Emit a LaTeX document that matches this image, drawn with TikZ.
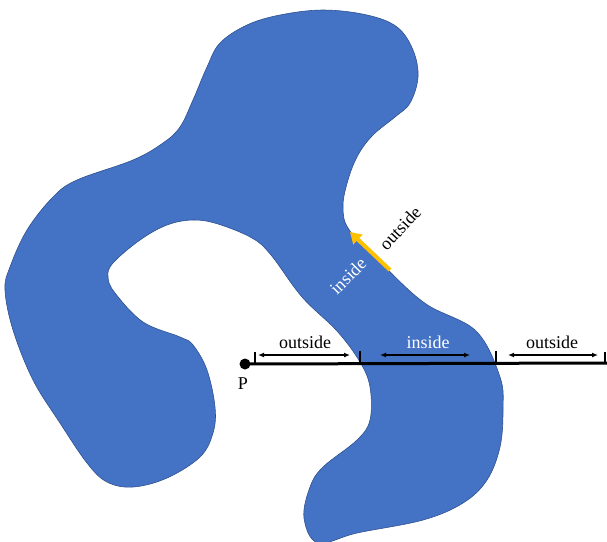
\documentclass[tikz,border=0pt]{standalone}
\usepackage{fontspec}
\setmainfont{Liberation Serif}
\usetikzlibrary{arrows.meta}
\definecolor{blobfill}{HTML}{4472C4}
\definecolor{blobline}{HTML}{2F528F}
\definecolor{normalarrow}{HTML}{FFC000}
\begin{document}
\begin{tikzpicture}[x=1pt,y=-1pt,
  lbl/.style={font=\fontsize{18}{18}\selectfont, inner sep=0pt},
  span/.style={line width=1.5pt, {Latex[length=6pt,width=5pt]}-{Latex[length=6pt,width=5pt]}},
  tick/.style={line width=2pt},
  ray/.style={line width=3pt}]
\useasboundingbox (0,0) rectangle (607,541);
\clip (0,0) rectangle (607,541);
% the region
\fill[blobfill, draw=blobline, line width=0.6pt] plot[smooth cycle, tension=0.6] coordinates {
 (323,10) (367,15) (397,27) (413,50) (418,77) (410,103) (395,117) (373,135)
 (358,155) (348,180) (343,207) (350,231) (387,269) (426,304) (476,331)
 (500,377) (503,410) (500,447) (487,480) (463,503) (423,520) (357,533)
 (318,543) (304,518) (310,487) (323,467) (357,440) (370,420) (370,387)
 (360,362) (337,331) (302,297) (271,255) (252,238) (218,224) (193,220)
 (167,225) (140,240) (113,263) (108,277) (115,293) (143,322) (180,337)
 (193,345) (207,370) (215,407) (213,433) (200,457) (167,478) (133,487)
 (107,482) (87,463) (60,423) (33,380) (13,330) (5,290) (10,267) (27,230)
 (53,197) (77,180) (133,160) (163,143) (180,127) (193,100) (207,67)
 (220,43) (247,25) (280,15)};
% ray from P
\node[circle, fill=black, inner sep=0pt, minimum size=11pt] (P) at (245,364) {};
\node[lbl] (Plabel) at (243,384) {P};
\coordinate (end) at (607,363);
\draw[ray] (P.center) -- (end);
\coordinate (t0) at (255,363); \coordinate (t0u) at (255,352);
\coordinate (t1) at (360,363); \coordinate (t1u) at (360,351);
\coordinate (t2) at (496,363); \coordinate (t2u) at (496,351);
\coordinate (t3) at (605,363); \coordinate (t3u) at (605,352);
\draw[tick] (t0) -- (t0u);
\draw[tick] (t1) -- (t1u);
\draw[tick] (t2) -- (t2u);
\draw[tick] (t3) -- (t3u);
\coordinate (a0) at (258,355); \coordinate (b0) at (350,355);
\coordinate (a1) at (380,355); \coordinate (b1) at (470,355);
\coordinate (a2) at (508,355); \coordinate (b2) at (598,355);
\draw[span] (a0) -- (b0);
\draw[span] (a1) -- (b1);
\draw[span] (a2) -- (b2);
\node[lbl] (out1) at (305,342) {outside};
\node[lbl, text=white] (in1) at (428,342) {inside};
\node[lbl] (out2) at (552,342) {outside};
% outward normal on the boundary
\coordinate (ntail) at (390,270);
\coordinate (ntip) at (350,232);
\draw[normalarrow, line width=4pt, -{Triangle[length=11pt,width=13pt]}] (ntail) -- (ntip);
\node[lbl, rotate=47] (outn) at (400,228) {outside};
\node[lbl, rotate=45, text=white] (inn) at (348,276) {inside};
\end{tikzpicture}
\end{document}
